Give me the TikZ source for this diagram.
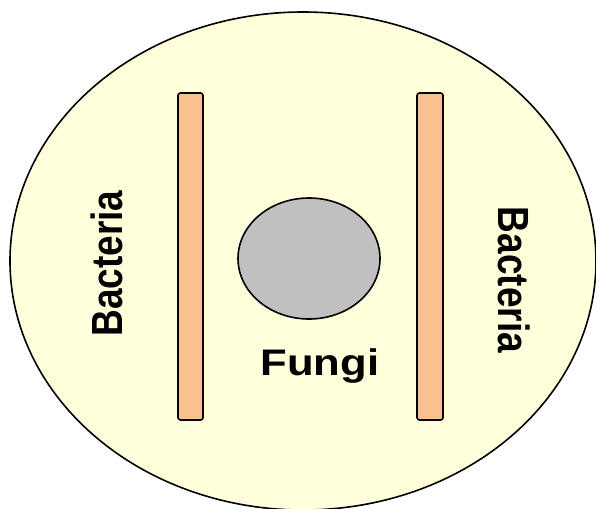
\documentclass[tikz,border=0pt]{standalone}
\usepackage{fontspec}
\setmainfont{Liberation Sans}
\usepackage{tikz}
\usetikzlibrary{positioning}
\usepackage{xcolor}

\definecolor{agar}{HTML}{FFFFDC}
\definecolor{streak}{HTML}{FAC090}
\definecolor{mould}{HTML}{C0C0C0}

\begin{document}
\begin{tikzpicture}[x=1pt, y=-1pt,
        strip/.style={draw=black, line width=1.6pt, fill=streak, rounded corners=2.5pt},
        tag/.style={font=\bfseries\fontsize{37}{40}\selectfont, inner sep=0pt}]

        % Fix the page to the size of the picture
        \useasboundingbox (0,0) rectangle (596,508);

        % Petri dish
        \draw[line width=1.6pt, fill=agar] (303,261) ellipse [x radius=293, y radius=249];

        % Bacterial streaks on both sides
        \draw[strip] (178,93) rectangle (203,420);
        \draw[strip] (417,93) rectangle (443,420);

        % Fungal colony in the middle
        \draw[line width=1.6pt, fill=mould] (309,258.5) ellipse [x radius=71, y radius=60.5];

        % Labels
        \node[tag, xscale=1.18, anchor=base] (fungi) at (320,375) {Fungi};
        \node[tag, xscale=1.18, rotate=90] (bactleft) at (107,263.5) {Bacteria};
        \node[tag, xscale=1.18, rotate=-90] (bactright) at (514,280) {Bacteria};

    \end{tikzpicture}
\end{document}
